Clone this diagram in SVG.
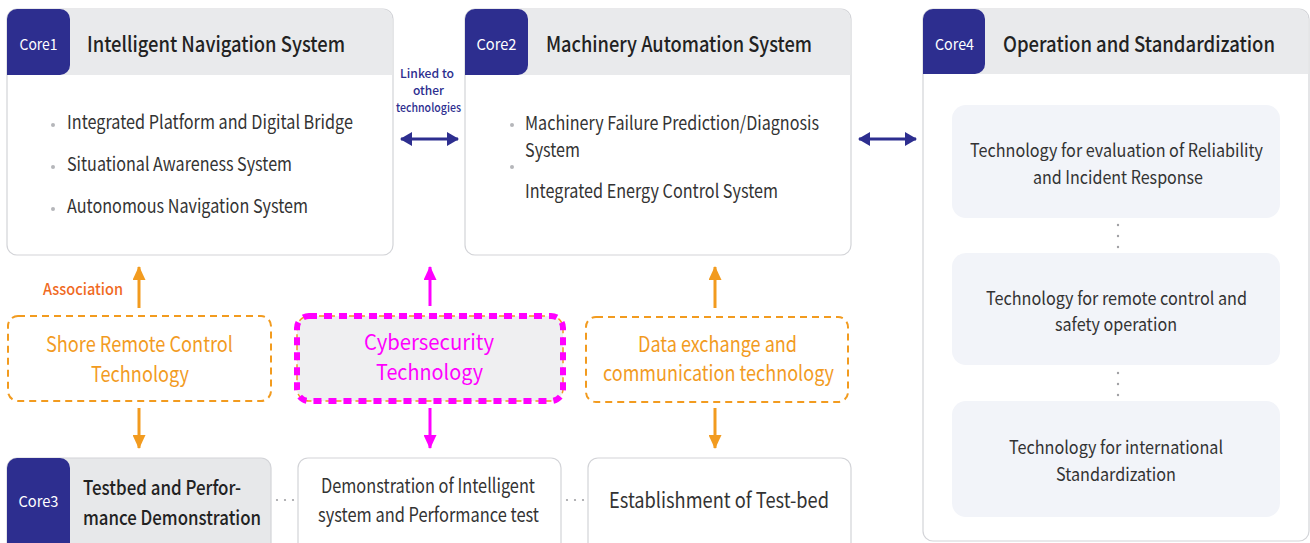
<svg xmlns="http://www.w3.org/2000/svg" width="1310" height="543" viewBox="0 0 1310 543">
<defs>
<style>
text{font-family:"Noto Sans CJK KR","Noto Sans",sans-serif;}
.box{fill:#fff;stroke:#d3d4d8;stroke-width:1.2;}
.hdr{fill:#e9eaec;}
.tab{fill:#2d2e8f;}
.lbl{fill:#fff;font-size:15px;text-anchor:middle;}
.ttl{fill:#222;font-size:21px;font-weight:500;}
.itm{fill:#333;font-size:19px;}
.dot{fill:#b5b6ba;}
.sub{fill:#f2f4f9;}
.ctr{fill:#333;font-size:18px;text-anchor:middle;}
.org{fill:none;stroke:#f29b1f;stroke-width:2;stroke-dasharray:7 5;}
.otx{fill:#f29b1f;font-size:21px;text-anchor:middle;}
.mtx{fill:#ff00ff;font-size:21px;text-anchor:middle;}
.navy{stroke:#2d2e8f;stroke-width:3;fill:none;}
.oarr{stroke:#f29b1f;stroke-width:3;fill:none;}
.marr{stroke:#ff00ff;stroke-width:3;fill:none;}
.sm{fill:#a0a0a4;}
.lnk{fill:#2d2e8f;font-size:12px;font-weight:500;text-anchor:middle;}
</style>
<marker id="hn" viewBox="0 0 12 14" refX="11" refY="7" markerWidth="12" markerHeight="14" markerUnits="userSpaceOnUse" orient="auto-start-reverse"><path d="M0,0 L12,7 L0,14 Z" fill="#2d2e8f"/></marker>
<marker id="ho" viewBox="0 0 14 13" refX="13" refY="6.5" markerWidth="14" markerHeight="13" markerUnits="userSpaceOnUse" orient="auto"><path d="M0,0 L14,6.5 L0,13 Z" fill="#f29b1f"/></marker>
<marker id="hm" viewBox="0 0 14 13" refX="13" refY="6.5" markerWidth="14" markerHeight="13" markerUnits="userSpaceOnUse" orient="auto"><path d="M0,0 L14,6.5 L0,13 Z" fill="#ff00ff"/></marker>
</defs>
<rect width="1310" height="543" fill="#fff"/>

<g id="core1">
<rect class="box" x="7" y="9" width="386" height="246" rx="10"/>
<path class="hdr" d="M7.6,75 V19 a10,10 0 0 1 10,-10 H382.4 a10,10 0 0 1 10,10 V75 Z"/>
<path class="tab" d="M7,75 V19 a10,10 0 0 1 10,-10 H60 a10,10 0 0 1 10,10 V65 a10,10 0 0 1 -10,10 Z"/>
<text class="lbl" x="38.5" y="49.5" textLength="38" lengthAdjust="spacingAndGlyphs">Core1</text>
<text class="ttl" x="87" y="52" textLength="258" lengthAdjust="spacingAndGlyphs">Intelligent Navigation System</text>
<circle class="dot" cx="53" cy="125" r="2"/>
<circle class="dot" cx="53" cy="167" r="2"/>
<circle class="dot" cx="53" cy="209" r="2"/>
<text class="itm" x="67" y="129" textLength="286" lengthAdjust="spacingAndGlyphs">Integrated Platform and Digital Bridge</text>
<text class="itm" x="67" y="171" textLength="225" lengthAdjust="spacingAndGlyphs">Situational Awareness System</text>
<text class="itm" x="67" y="213" textLength="241" lengthAdjust="spacingAndGlyphs">Autonomous Navigation System</text>
</g>

<g id="core2">
<rect class="box" x="465" y="9" width="386" height="246" rx="10"/>
<path class="hdr" d="M465.6,75 V19 a10,10 0 0 1 10,-10 H840.4 a10,10 0 0 1 10,10 V75 Z"/>
<path class="tab" d="M465,75 V19 a10,10 0 0 1 10,-10 H518 a10,10 0 0 1 10,10 V65 a10,10 0 0 1 -10,10 Z"/>
<text class="lbl" x="496.5" y="49.5" textLength="40" lengthAdjust="spacingAndGlyphs">Core2</text>
<text class="ttl" x="546" y="52" textLength="266" lengthAdjust="spacingAndGlyphs">Machinery Automation System</text>
<circle class="dot" cx="512" cy="125" r="2"/>
<circle class="dot" cx="512" cy="167" r="2"/>
<text class="itm" x="525" y="130" textLength="294" lengthAdjust="spacingAndGlyphs">Machinery Failure Prediction/Diagnosis</text>
<text class="itm" x="525" y="157" textLength="55" lengthAdjust="spacingAndGlyphs">System</text>
<text class="itm" x="525" y="198" textLength="253" lengthAdjust="spacingAndGlyphs">Integrated Energy Control System</text>
</g>

<g id="core4">
<rect class="box" x="923" y="9" width="386" height="532" rx="10"/>
<path class="hdr" d="M923.6,74 V19 a10,10 0 0 1 10,-10 H1298.4 a10,10 0 0 1 10,10 V74 Z"/>
<path class="tab" d="M923,74 V19 a10,10 0 0 1 10,-10 H975 a10,10 0 0 1 10,10 V64 a10,10 0 0 1 -10,10 Z"/>
<text class="lbl" x="954.5" y="49.5" textLength="39" lengthAdjust="spacingAndGlyphs">Core4</text>
<text class="ttl" x="1003" y="52" textLength="272" lengthAdjust="spacingAndGlyphs">Operation and Standardization</text>
</g>

<g id="core4-reliability">
<rect class="sub" x="952" y="105" width="328" height="113" rx="14"/>
<text class="ctr" x="1116.5" y="157" textLength="293" lengthAdjust="spacingAndGlyphs">Technology for evaluation of Reliability</text>
<text class="ctr" x="1118" y="184" textLength="170" lengthAdjust="spacingAndGlyphs">and Incident Response</text>
</g>
<g id="core4-remote">
<rect class="sub" x="952" y="253" width="328" height="112" rx="14"/>
<text class="ctr" x="1116.5" y="305" textLength="261" lengthAdjust="spacingAndGlyphs">Technology for remote control and</text>
<text class="ctr" x="1116" y="331" textLength="122" lengthAdjust="spacingAndGlyphs">safety operation</text>
</g>
<g id="core4-standard">
<rect class="sub" x="952" y="401" width="328" height="116" rx="14"/>
<text class="ctr" x="1116" y="454" textLength="214" lengthAdjust="spacingAndGlyphs">Technology for international</text>
<text class="ctr" x="1116" y="481" textLength="120" lengthAdjust="spacingAndGlyphs">Standardization</text>
</g>

<g id="shore">
<rect class="org" x="8" y="316" width="263" height="85" rx="10"/>
<text class="otx" x="139.5" y="352" textLength="187" lengthAdjust="spacingAndGlyphs">Shore Remote Control</text>
<text class="otx" x="140" y="382" textLength="98" lengthAdjust="spacingAndGlyphs">Technology</text>
</g>

<g id="cyber">
<rect x="297" y="316" width="266" height="85" rx="12" fill="#efeff1" stroke="#f29b1f" stroke-width="1.5" stroke-dasharray="6 4"/>
<rect x="297" y="316" width="266" height="85" rx="12" fill="none" stroke="#ff00ff" stroke-width="6" stroke-dasharray="8 7"/>
<text class="mtx" x="429" y="350" textLength="130" lengthAdjust="spacingAndGlyphs">Cybersecurity</text>
<text class="mtx" x="429.5" y="380" textLength="107" lengthAdjust="spacingAndGlyphs">Technology</text>
</g>

<g id="dataex">
<rect class="org" x="586" y="317" width="262" height="85" rx="10"/>
<text class="otx" x="717.5" y="352" textLength="159" lengthAdjust="spacingAndGlyphs">Data exchange and</text>
<text class="otx" x="718.5" y="381" textLength="231" lengthAdjust="spacingAndGlyphs">communication technology</text>
</g>

<g id="core3">
<rect x="7" y="458" width="264" height="100" rx="10" fill="#e7e8ea" stroke="#d3d4d8" stroke-width="1.2"/>
<path class="tab" d="M7,560 V468 a10,10 0 0 1 10,-10 H60 a10,10 0 0 1 10,10 V560 Z"/>
<text class="lbl" x="38.5" y="507" textLength="40" lengthAdjust="spacingAndGlyphs">Core3</text>
<text x="83" y="495" fill="#222" font-size="20" font-weight="500" textLength="158" lengthAdjust="spacingAndGlyphs">Testbed and Perfor-</text>
<text x="83" y="525" fill="#222" font-size="20" font-weight="500" textLength="178" lengthAdjust="spacingAndGlyphs">mance Demonstration</text>
</g>

<g id="demo">
<rect class="box" x="298" y="458" width="263" height="100" rx="10"/>
<text x="428" y="493" fill="#333" font-size="20" text-anchor="middle" textLength="214" lengthAdjust="spacingAndGlyphs">Demonstration of Intelligent</text>
<text x="428.5" y="522" fill="#333" font-size="20" text-anchor="middle" textLength="221" lengthAdjust="spacingAndGlyphs">system and Performance test</text>
</g>

<g id="testbed">
<rect class="box" x="588" y="458" width="263" height="100" rx="10"/>
<text x="719" y="508" fill="#333" font-size="21" text-anchor="middle" textLength="220" lengthAdjust="spacingAndGlyphs">Establishment of Test-bed</text>
</g>

<g id="connectors">
<line class="navy" x1="401" y1="139" x2="458" y2="139" marker-start="url(#hn)" marker-end="url(#hn)"/>
<line class="navy" x1="859" y1="139" x2="916" y2="139" marker-start="url(#hn)" marker-end="url(#hn)"/>
<text class="lnk" x="427" y="78" textLength="54" lengthAdjust="spacingAndGlyphs">Linked to</text>
<text class="lnk" x="428.5" y="95" textLength="31" lengthAdjust="spacingAndGlyphs">other</text>
<text class="lnk" x="428.5" y="112" textLength="65" lengthAdjust="spacingAndGlyphs">technologies</text>

<line class="oarr" x1="139" y1="308" x2="139" y2="267" marker-end="url(#ho)"/>
<line class="oarr" x1="139" y1="408" x2="139" y2="448" marker-end="url(#ho)"/>
<text x="43" y="295" fill="#f06a1f" font-size="16" font-weight="500" textLength="80" lengthAdjust="spacingAndGlyphs">Association</text>
<line class="marr" x1="430" y1="306" x2="430" y2="267" marker-end="url(#hm)"/>
<line class="marr" x1="430" y1="408" x2="430" y2="448" marker-end="url(#hm)"/>
<line class="oarr" x1="715" y1="308" x2="715" y2="267" marker-end="url(#ho)"/>
<line class="oarr" x1="715" y1="408" x2="715" y2="448" marker-end="url(#ho)"/>

<circle class="sm" cx="277" cy="500" r="1.1"/><circle class="sm" cx="285" cy="500" r="1.1"/><circle class="sm" cx="293" cy="500" r="1.1"/>
<circle class="sm" cx="567" cy="500" r="1.1"/><circle class="sm" cx="575" cy="500" r="1.1"/><circle class="sm" cx="583" cy="500" r="1.1"/>
<circle class="sm" cx="1118" cy="225" r="1.2"/><circle class="sm" cx="1118" cy="236" r="1.2"/><circle class="sm" cx="1118" cy="247" r="1.2"/>
<circle class="sm" cx="1118" cy="373" r="1.2"/><circle class="sm" cx="1118" cy="384" r="1.2"/><circle class="sm" cx="1118" cy="395" r="1.2"/>
</g>
</svg>
